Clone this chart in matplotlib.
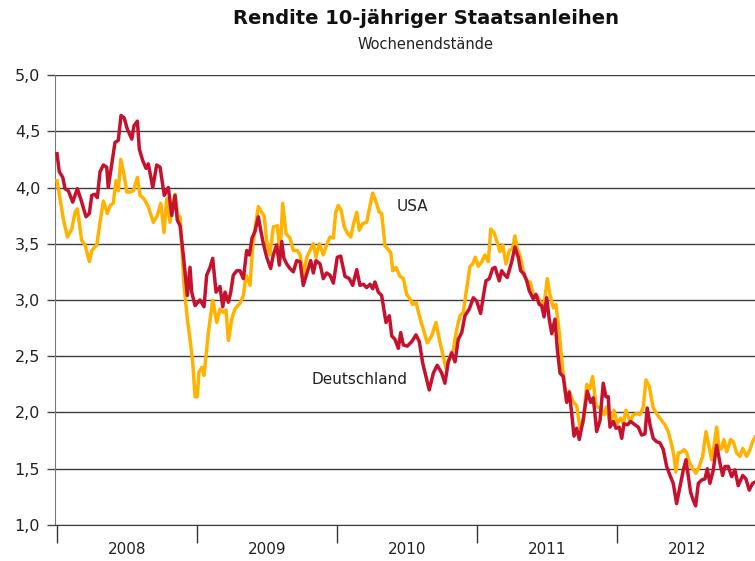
import matplotlib
matplotlib.use("Agg")
import matplotlib.pyplot as plt
from matplotlib.ticker import FuncFormatter

# Jahre seit Anfang 2008, Rendite in %
deutschland = [
    (0.000, 4.30), (0.016, 4.14), (0.041, 4.09), (0.057, 3.99), (0.081, 3.97),
    (0.112, 3.87), (0.145, 3.99), (0.169, 3.90), (0.207, 3.74), (0.231, 3.77),
    (0.248, 3.93), (0.271, 3.94), (0.288, 3.91), (0.307, 4.14), (0.331, 4.20),
    (0.355, 4.18), (0.366, 4.00), (0.391, 4.21), (0.414, 4.40), (0.438, 4.42),
    (0.457, 4.64), (0.479, 4.62), (0.502, 4.52), (0.534, 4.43), (0.550, 4.55),
    (0.574, 4.59), (0.588, 4.34), (0.612, 4.24), (0.636, 4.17), (0.652, 4.21),
    (0.684, 4.00), (0.712, 4.20), (0.736, 4.18), (0.766, 3.93), (0.795, 4.00),
    (0.819, 3.75), (0.843, 3.93), (0.859, 3.71), (0.879, 3.66), (0.902, 3.40),
    (0.931, 3.04), (0.950, 3.29), (0.962, 3.07), (0.986, 2.95), (1.021, 3.00),
    (1.050, 2.94), (1.069, 3.22), (1.093, 3.29), (1.112, 3.37), (1.136, 3.07),
    (1.164, 3.12), (1.184, 2.94), (1.200, 3.07), (1.224, 2.98), (1.241, 3.07),
    (1.259, 3.22), (1.284, 3.26), (1.307, 3.26), (1.331, 3.19), (1.355, 3.44),
    (1.374, 3.40), (1.393, 3.55), (1.414, 3.61), (1.438, 3.74), (1.455, 3.62),
    (1.474, 3.50), (1.498, 3.38), (1.526, 3.28), (1.545, 3.40), (1.569, 3.49),
    (1.588, 3.31), (1.605, 3.52), (1.621, 3.37), (1.641, 3.32), (1.664, 3.28),
    (1.688, 3.25), (1.712, 3.35), (1.736, 3.34), (1.759, 3.13), (1.788, 3.25),
    (1.812, 3.35), (1.831, 3.24), (1.850, 3.35), (1.879, 3.32), (1.902, 3.19),
    (1.926, 3.24), (1.950, 3.22), (1.974, 3.15), (2.002, 3.38), (2.026, 3.39),
    (2.057, 3.21), (2.088, 3.19), (2.112, 3.13), (2.141, 3.27), (2.164, 3.13),
    (2.188, 3.14), (2.212, 3.11), (2.236, 3.14), (2.255, 3.10), (2.271, 3.16),
    (2.295, 3.07), (2.319, 3.04), (2.350, 2.80), (2.374, 2.86), (2.391, 2.68),
    (2.414, 2.65), (2.438, 2.57), (2.455, 2.71), (2.474, 2.60), (2.502, 2.59),
    (2.534, 2.63), (2.564, 2.69), (2.588, 2.63), (2.612, 2.44), (2.641, 2.29),
    (2.659, 2.20), (2.688, 2.35), (2.716, 2.42), (2.748, 2.35), (2.771, 2.26),
    (2.795, 2.45), (2.819, 2.53), (2.843, 2.45), (2.866, 2.65), (2.891, 2.71),
    (2.914, 2.86), (2.945, 2.92), (2.974, 3.02), (2.998, 2.99), (3.026, 2.88),
    (3.050, 3.07), (3.064, 3.17), (3.088, 3.19), (3.112, 3.28), (3.129, 3.29),
    (3.159, 3.17), (3.176, 3.26), (3.193, 3.23), (3.216, 3.20), (3.248, 3.34),
    (3.271, 3.47), (3.295, 3.38), (3.312, 3.26), (3.336, 3.23), (3.355, 3.17),
    (3.374, 3.08), (3.402, 3.01), (3.421, 3.05), (3.445, 2.96), (3.462, 2.95),
    (3.479, 2.85), (3.498, 3.02), (3.516, 2.83), (3.534, 2.70), (3.557, 2.83),
    (3.574, 2.56), (3.593, 2.35), (3.616, 2.32), (3.641, 2.09), (3.659, 2.18),
    (3.676, 2.00), (3.693, 1.79), (3.712, 1.86), (3.731, 1.76), (3.759, 1.94),
    (3.788, 2.19), (3.812, 2.09), (3.831, 2.13), (3.855, 1.83), (3.879, 1.93),
    (3.902, 2.26), (3.921, 2.14), (3.938, 2.14), (3.950, 1.87), (3.974, 1.92),
    (3.993, 1.86), (4.016, 1.87), (4.034, 1.77), (4.050, 1.90), (4.074, 1.89),
    (4.098, 1.92), (4.129, 1.89), (4.152, 1.87), (4.176, 1.80), (4.200, 1.81),
    (4.216, 2.04), (4.236, 1.89), (4.259, 1.77), (4.284, 1.74), (4.307, 1.73),
    (4.331, 1.67), (4.355, 1.52), (4.379, 1.44), (4.402, 1.37), (4.426, 1.19),
    (4.450, 1.34), (4.474, 1.49), (4.493, 1.58), (4.509, 1.44), (4.526, 1.29),
    (4.545, 1.22), (4.562, 1.17), (4.581, 1.37), (4.605, 1.40), (4.629, 1.41),
    (4.645, 1.50), (4.664, 1.37), (4.688, 1.49), (4.712, 1.71), (4.736, 1.55),
    (4.755, 1.44), (4.771, 1.52), (4.795, 1.52), (4.819, 1.43), (4.843, 1.49),
    (4.866, 1.35), (4.898, 1.44), (4.921, 1.41), (4.945, 1.31), (4.969, 1.37),
    (4.986, 1.38),
]

usa = [
    (0.000, 4.06), (0.021, 3.90), (0.045, 3.72), (0.074, 3.56), (0.105, 3.63),
    (0.129, 3.78), (0.145, 3.81), (0.176, 3.53), (0.200, 3.49), (0.231, 3.34),
    (0.248, 3.44), (0.284, 3.49), (0.307, 3.69), (0.331, 3.88), (0.359, 3.77),
    (0.379, 3.84), (0.402, 3.86), (0.421, 4.06), (0.438, 3.97), (0.455, 4.25),
    (0.479, 4.11), (0.498, 3.96), (0.521, 3.96), (0.545, 3.97), (0.574, 4.09),
    (0.593, 3.93), (0.621, 3.90), (0.652, 3.83), (0.688, 3.69), (0.716, 3.75),
    (0.741, 3.86), (0.764, 3.60), (0.784, 3.90), (0.807, 3.69), (0.821, 3.84),
    (0.843, 3.94), (0.862, 3.75), (0.879, 3.74), (0.907, 3.13), (0.931, 2.83),
    (0.950, 2.65), (0.969, 2.45), (0.986, 2.14), (1.002, 2.14), (1.014, 2.36),
    (1.034, 2.40), (1.050, 2.33), (1.081, 2.71), (1.112, 3.00), (1.141, 2.80),
    (1.164, 2.92), (1.188, 2.89), (1.207, 2.91), (1.224, 2.64), (1.248, 2.83),
    (1.271, 2.92), (1.307, 2.97), (1.331, 3.04), (1.350, 3.22), (1.379, 3.13),
    (1.398, 3.49), (1.421, 3.69), (1.438, 3.83), (1.462, 3.78), (1.479, 3.75),
    (1.498, 3.52), (1.521, 3.40), (1.545, 3.65), (1.574, 3.66), (1.593, 3.40),
    (1.612, 3.86), (1.636, 3.59), (1.664, 3.55), (1.688, 3.44), (1.716, 3.44),
    (1.736, 3.40), (1.759, 3.22), (1.784, 3.38), (1.807, 3.44), (1.831, 3.50),
    (1.850, 3.38), (1.874, 3.50), (1.902, 3.40), (1.926, 3.49), (1.950, 3.56),
    (1.974, 3.55), (1.991, 3.78), (2.009, 3.84), (2.029, 3.80), (2.050, 3.66),
    (2.071, 3.60), (2.098, 3.56), (2.121, 3.69), (2.141, 3.78), (2.159, 3.62),
    (2.184, 3.68), (2.212, 3.69), (2.231, 3.81), (2.255, 3.95), (2.279, 3.87),
    (2.302, 3.78), (2.319, 3.77), (2.343, 3.48), (2.366, 3.45), (2.384, 3.42),
    (2.398, 3.26), (2.421, 3.29), (2.450, 3.21), (2.474, 3.19), (2.498, 3.05),
    (2.521, 3.01), (2.541, 2.96), (2.564, 2.98), (2.588, 2.86), (2.616, 2.74),
    (2.645, 2.62), (2.676, 2.68), (2.707, 2.80), (2.731, 2.65), (2.759, 2.50),
    (2.779, 2.39), (2.802, 2.48), (2.831, 2.56), (2.855, 2.74), (2.879, 2.86),
    (2.902, 2.89), (2.926, 3.10), (2.950, 3.30), (2.969, 3.32), (2.988, 3.38),
    (3.009, 3.30), (3.034, 3.34), (3.057, 3.40), (3.081, 3.34), (3.098, 3.63),
    (3.121, 3.60), (3.145, 3.51), (3.164, 3.43), (3.184, 3.49), (3.207, 3.32),
    (3.231, 3.44), (3.255, 3.46), (3.271, 3.57), (3.288, 3.46), (3.312, 3.37),
    (3.336, 3.22), (3.359, 3.17), (3.379, 3.16), (3.402, 3.05), (3.426, 3.04),
    (3.450, 2.99), (3.479, 2.95), (3.502, 3.19), (3.521, 3.05), (3.545, 2.93),
    (3.564, 2.96), (3.588, 2.71), (3.612, 2.38), (3.641, 2.10), (3.659, 2.19),
    (3.684, 2.10), (3.712, 2.06), (3.736, 1.86), (3.759, 1.91), (3.784, 2.25),
    (3.807, 2.21), (3.826, 2.32), (3.850, 2.06), (3.879, 2.04), (3.907, 1.98),
    (3.926, 2.05), (3.950, 1.90), (3.979, 2.02), (4.002, 1.90), (4.026, 1.95),
    (4.045, 1.90), (4.064, 2.02), (4.093, 1.92), (4.116, 1.98), (4.141, 1.99),
    (4.164, 1.98), (4.188, 2.05), (4.207, 2.29), (4.231, 2.23), (4.259, 2.04),
    (4.288, 1.98), (4.319, 1.93), (4.343, 1.89), (4.366, 1.83), (4.391, 1.71),
    (4.407, 1.61), (4.421, 1.47), (4.438, 1.64), (4.462, 1.65), (4.479, 1.67),
    (4.498, 1.64), (4.516, 1.56), (4.541, 1.50), (4.564, 1.46), (4.588, 1.52),
    (4.612, 1.61), (4.636, 1.83), (4.652, 1.73), (4.676, 1.58), (4.693, 1.70),
    (4.712, 1.87), (4.731, 1.67), (4.748, 1.68), (4.764, 1.76), (4.784, 1.65),
    (4.812, 1.76), (4.831, 1.74), (4.855, 1.64), (4.879, 1.61), (4.898, 1.68),
    (4.926, 1.61), (4.950, 1.67), (4.969, 1.74), (4.986, 1.78),
]

jahre = [2008, 2009, 2010, 2011, 2012]
start_jahr = 2008

fig = plt.figure(figsize=(7.55, 5.61), dpi=100)
ax = fig.add_axes([0.0735, 0.0642, 0.9265, 0.8021])

us_x = [start_jahr + t for t, v in usa]
us_y = [v for t, v in usa]
de_x = [start_jahr + t for t, v in deutschland]
de_y = [v for t, v in deutschland]

ax.plot(us_x, us_y, color='#FFB300', lw=2.5, solid_joinstyle='round', zorder=3)
ax.plot(de_x, de_y, color='#C4122F', lw=2.5, solid_joinstyle='round', zorder=4)

ax.set_ylim(1.0, 5.0)
ax.set_xlim(2007.989, 2012.986)
ax.set_yticks([1.0, 1.5, 2.0, 2.5, 3.0, 3.5, 4.0, 4.5, 5.0])
ax.yaxis.set_major_formatter(FuncFormatter(lambda v, p: f"{v:.1f}".replace('.', ',')))
ax.grid(axis='y', color='#3c3c3c', lw=1.0, zorder=1)
ax.set_axisbelow(True)

ax.set_xticks(jahre)
ax.set_xticklabels([])
ax.set_xticks([j + 0.5 for j in jahre], minor=True)
ax.set_xticklabels([str(j) for j in jahre], minor=True, fontsize=11, color='#222222')
ax.tick_params(axis='x', which='major', length=13, width=1, color='#333333', direction='out')
ax.tick_params(axis='x', which='minor', length=0, pad=12)
ax.tick_params(axis='y', length=6, width=1, color='#444444', labelsize=11.5,
               labelcolor='#222222', pad=5)

for s in ['top', 'right']:
    ax.spines[s].set_visible(False)
ax.spines['left'].set_color('#777777')
ax.spines['bottom'].set_color('#3c3c3c')

ax.text(2010.429, 3.827, 'USA', fontsize=11, color='#222222', va='center', ha='left')
ax.text(2009.821, 2.289, 'Deutschland', fontsize=11, color='#222222', va='center', ha='left')

fig.text(0.564, 0.967, 'Rendite 10-jähriger Staatsanleihen', fontsize=14, fontweight='bold',
         ha='center', va='center', color='#111111')
fig.text(0.564, 0.921, 'Wochenendstände', fontsize=10.5, ha='center', va='center', color='#222222')

fig.savefig('out.png', dpi=100)
